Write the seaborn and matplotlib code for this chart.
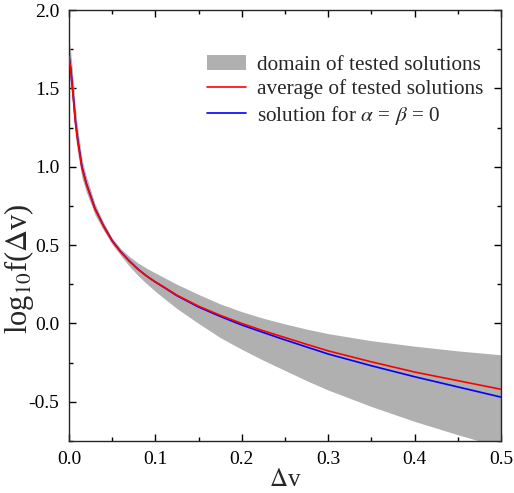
import numpy as np
import pandas as pd
import matplotlib
matplotlib.use("Agg")
import matplotlib.pyplot as plt
from matplotlib.patches import Patch
from matplotlib.lines import Line2D
from matplotlib.ticker import MultipleLocator, FormatStrFormatter
import seaborn as sns

# velocity difference grid
dv = [0.0, 0.002, 0.005, 0.0075, 0.01, 0.015, 0.02, 0.03, 0.04, 0.05, 0.06,
      0.07, 0.08, 0.09, 0.1, 0.11, 0.125, 0.15, 0.175, 0.2, 0.225, 0.25, 0.275,
      0.3, 0.35, 0.4, 0.45, 0.5]
# average of tested solutions
avg = [1.70, 1.62, 1.44, 1.28, 1.17, 0.99, 0.89, 0.73, 0.62, 0.525, 0.455,
       0.397, 0.345, 0.302, 0.265, 0.232, 0.18, 0.11, 0.052, 0.0, -0.047, -0.09, -0.133,
       -0.175, -0.245, -0.31, -0.365, -0.42]
# solution for alpha = beta = 0
sol0 = [1.71, 1.63, 1.45, 1.29, 1.18, 1.00, 0.895, 0.735, 0.623, 0.528, 0.457,
        0.398, 0.346, 0.302, 0.264, 0.230, 0.177, 0.105, 0.045, -0.01, -0.058, -0.105, -0.15,
        -0.195, -0.27, -0.34, -0.405, -0.47]
# envelope of tested solutions
upper = [1.81, 1.73, 1.55, 1.37, 1.25, 1.05, 0.94, 0.765, 0.645, 0.545, 0.477,
         0.427, 0.385, 0.352, 0.322, 0.293, 0.25, 0.185, 0.125, 0.075, 0.033, -0.003, -0.036,
         -0.065, -0.11, -0.145, -0.175, -0.20]
lower = [1.58, 1.52, 1.34, 1.19, 1.09, 0.93, 0.84, 0.695, 0.595, 0.505, 0.433,
         0.365, 0.305, 0.253, 0.205, 0.16, 0.095, 0.0, -0.09, -0.165, -0.235, -0.30, -0.365,
         -0.425, -0.53, -0.625, -0.71, -0.79]

df = pd.DataFrame({"dv": dv, "avg": avg, "sol0": sol0, "upper": upper, "lower": lower})

sns.set_theme(style="ticks")
plt.rcParams["font.family"] = ["Liberation Serif", "DejaVu Serif"]
plt.rcParams["mathtext.fontset"] = "stix"
plt.rcParams["axes.linewidth"] = 1.0

fig = plt.figure(figsize=(5.14, 4.93), dpi=100)
ax = fig.add_axes([0.1342, 0.1055, 0.8405, 0.8742])

band_color = "#b0b0b0"
ax.fill_between(df["dv"], df["lower"], df["upper"], color=band_color, lw=0, zorder=1)
sns.lineplot(data=df, x="dv", y="sol0", color="blue", lw=1.2, ax=ax, zorder=2)
sns.lineplot(data=df, x="dv", y="avg", color="red", lw=1.2, ax=ax, zorder=3)

ax.set_xlim(0.0, 0.5)
ax.set_ylim(-0.75, 2.0)
ax.xaxis.set_major_locator(MultipleLocator(0.1))
ax.xaxis.set_minor_locator(MultipleLocator(0.05))
ax.yaxis.set_major_locator(MultipleLocator(0.5))
ax.yaxis.set_minor_locator(MultipleLocator(0.25))
ax.tick_params(which="both", direction="in", top=True, right=True, colors="black",
               labelsize=14, width=1.0)
ax.tick_params(which="major", length=5, pad=7)
ax.tick_params(which="minor", length=3)
ax.xaxis.set_major_formatter(FormatStrFormatter("%.1f"))
ax.yaxis.set_major_formatter(FormatStrFormatter("%.1f"))

ax.set_xlabel(r"$\Delta$v", fontsize=18, labelpad=1)
ax.set_ylabel(r"log$_{10}$f($\Delta$v)", fontsize=22)
ax.yaxis.set_label_coords(-0.077, 0.40)

handles = [Patch(facecolor=band_color, edgecolor="none"),
           Line2D([], [], color="red", lw=1.2),
           Line2D([], [], color="blue", lw=1.2)]
labels = ["domain of tested solutions", "average of tested solutions",
          r"solution for $\alpha$ = $\beta$ = 0"]
ax.legend(handles, labels, loc="upper right", bbox_to_anchor=(0.96, 0.895),
          frameon=False, fontsize=15.3, handlelength=1.84, handletextpad=0.55,
          labelspacing=0.2, borderaxespad=0.0, borderpad=0.0)

fig.savefig("out.png", dpi=100)
